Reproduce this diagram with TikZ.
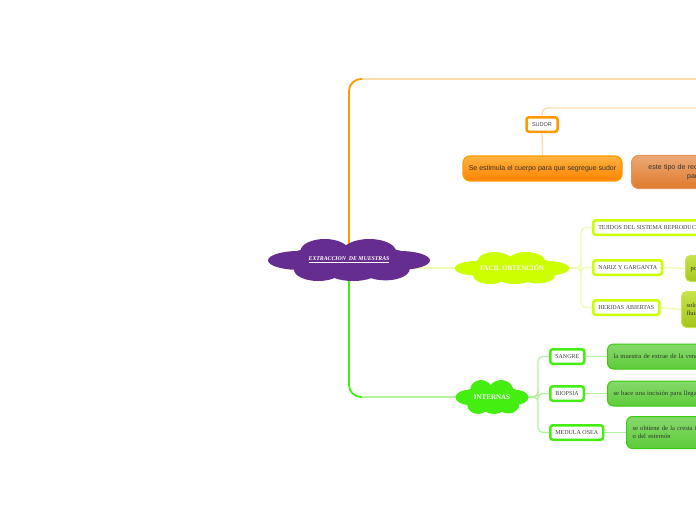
\documentclass[tikz,border=0pt]{standalone}
\usepackage{fontspec}
\setmainfont{Liberation Serif}
\newfontfamily\notesans{Liberation Sans}
\usepackage{tikz}
\usetikzlibrary{positioning, backgrounds}

\definecolor{rootpurple}{HTML}{662D91}
\definecolor{sudororange}{HTML}{FF9900}
\definecolor{paleorange}{HTML}{FCDDAA}
\definecolor{rustorange}{HTML}{E07A2C}
\definecolor{limetone}{HTML}{CCFF00}
\definecolor{palelime}{HTML}{EEFBB0}
\definecolor{olivelime}{HTML}{B8DC1E}
\definecolor{greentone}{HTML}{44EE11}
\definecolor{palegreen}{HTML}{B2F2A0}
\definecolor{leafgreen}{HTML}{5ECC3A}

% cloud blob round a node: {node}{half width}{half height}{colour}
\newcommand{\blobcloud}[4]{%
  \begin{scope}[shift={(#1.center)}, fill=#4]
    \fill (0,0) ellipse [x radius=0.8*#2pt, y radius=0.72*#3pt];
    \fill (-0.62*#2,0.02*#3) ellipse [x radius=0.38*#2pt, y radius=0.45*#3pt];
    \fill (0.62*#2,0.02*#3) ellipse [x radius=0.38*#2pt, y radius=0.45*#3pt];
    \fill (-0.3*#2,-0.42*#3) ellipse [x radius=0.3*#2pt, y radius=0.58*#3pt];
    \fill (0.25*#2,-0.4*#3) ellipse [x radius=0.33*#2pt, y radius=0.6*#3pt];
    \fill (-0.38*#2,0.45*#3) ellipse [x radius=0.3*#2pt, y radius=0.55*#3pt];
    \fill (0.05*#2,0.5*#3) ellipse [x radius=0.33*#2pt, y radius=0.5*#3pt];
    \fill (0.45*#2,0.42*#3) ellipse [x radius=0.3*#2pt, y radius=0.55*#3pt];
  \end{scope}}

\begin{document}
\begin{tikzpicture}[
  x=1pt, y=-1pt,
  font=\fontsize{6}{7}\selectfont,
  idea/.style={text=white, inner sep=0pt},
  topicbox/.style={draw, line width=2.5pt, rounded corners=2.5pt, fill=white, text=black!75, minimum height=14.5pt, inner xsep=5pt, anchor=west},
  orangenote/.style={draw=sudororange, line width=1.2pt, rounded corners=7pt, top color=sudororange!75!white, bottom color=sudororange!85!red, text=black!80, font=\notesans\fontsize{7}{8.5}\selectfont, align=center},
  limenote/.style={draw=olivelime!80!white, line width=1pt, rounded corners=5pt, top color=olivelime!80!white, bottom color=olivelime!90!black, text=black!80, anchor=west, align=left, inner xsep=5pt, text width=55pt, font=\fontsize{6.5}{8}\selectfont},
  greennote/.style={draw=greentone!85!black, line width=1pt, rounded corners=6pt, top color=leafgreen!75!white, bottom color=leafgreen, text=black!80, anchor=west, align=left, inner xsep=6pt, text width=140pt, font=\fontsize{6.6}{8}\selectfont},
  trunk/.style={line width=1.8pt},
  twig/.style={line width=1.3pt}
]
\path[use as bounding box] (0,0) rectangle (696,520);
\clip (0,0) rectangle (696,520);

% --- central idea ---
\node[idea, font=\fontsize{5.8}{7}\selectfont] (root) at (349,260)
  {\underline{\textbf{\textit{EXTRACCION\ \ DE MUESTRAS}}}};

% --- upper branch (orange) ---
\node[topicbox, draw=sudororange, anchor=center, minimum width=31pt, font=\notesans\fontsize{5.5}{6.5}\selectfont] (sudor) at (542,124.5) {SUDOR};
\node[orangenote, minimum width=159pt, minimum height=25pt] (estimula) at (542.5,168.5)
  {Se estimula el cuerpo para que segregue sudor};
\node[orangenote, anchor=west, draw=rustorange!80!white, top color=rustorange!65!white, bottom color=rustorange, minimum height=33pt, text width=131pt] (tipo) at (631,172)
  {este tipo de recolección ayuda al\\paciente};
\coordinate (topend) at (700,79);
\coordinate (sudorend) at (700,108);

% --- middle branch (lime) ---
\node[idea, font=\bfseries\fontsize{6.8}{8}\selectfont] (facil) at (512,268) {FACIL OBTENCIÓN};
\coordinate (facilfork) at (581,268);
\node[topicbox, draw=limetone] (tejidos) at (592,227.5) {TEJIDOS DEL SISTEMA REPRODUCTOR};
\node[topicbox, draw=limetone, minimum width=68.5pt] (nariz) at (592,267.5) {NARIZ Y GARGANTA};
\node[topicbox, draw=limetone, minimum width=65.5pt] (heridas) at (592,307.5) {HERIDAS ABIERTAS};
\node[limenote, minimum height=26pt] (hisopo) at (685,268.5) {por hisopado};
\node[limenote, minimum height=36pt] (fluidos) at (681,309.5) {solo se toman\\fluidos};

% --- lower branch (green) ---
\node[idea, font=\bfseries\fontsize{7}{8}\selectfont] (internas) at (492,397) {INTERNAS};
\coordinate (internasfork) at (538,397);
\node[topicbox, draw=greentone, minimum width=33.5pt] (sangre) at (549,356.5) {SANGRE};
\node[topicbox, draw=greentone, minimum width=33.5pt] (biopsia) at (549,393.5) {BIOPSIA};
\node[topicbox, draw=greentone, minimum width=52.5pt] (medula) at (549,432.5) {MEDULA OSEA};
\node[greennote, minimum height=25pt] (vena) at (607,356.5) {la muestra de extrae de la vena};
\node[greennote, minimum height=25pt] (incision) at (607,393.5) {se hace una incisión para llegar al tejido};
\node[greennote, minimum height=32pt, text width=120pt] (cresta) at (626,432.5) {se obtiene de la cresta ilíaca\\o del esternón};

\begin{scope}[on background layer]
% trunks out of the central idea
\draw[trunk, sudororange, rounded corners=12pt] (root.center) |- (topend);
\draw[trunk, paleorange] (362,79) -- (topend);
\draw[trunk, greentone, rounded corners=12pt] (root.center) |- (internas.center);
\draw[trunk, palegreen] (362,397) -- (internas.center);
\draw[twig, palelime] (root.center |- facil.center) -- (facil.center);

% orange twigs
\draw[twig, paleorange, rounded corners=6pt] (sudor.north) |- (sudorend);
\draw[twig, paleorange] (sudor.south) -- (estimula.north);

% lime twigs
\foreach \leaf in {tejidos, nariz, heridas}
  \draw[twig, palelime, rounded corners=5pt] (facil.east) -- (facilfork) |- (\leaf.west);
\draw[twig, palelime] (nariz.east) -- (hisopo.west);
\draw[twig, palelime] (heridas.east) -- (fluidos.west);

% green twigs
\foreach \leaf in {sangre, biopsia, medula}
  \draw[twig, palegreen, rounded corners=5pt] (internas.east) -- (internasfork) |- (\leaf.west);
\draw[twig, palegreen] (sangre.east) -- (vena.west);
\draw[twig, palegreen] (biopsia.east) -- (incision.west);
\draw[twig, palegreen] (medula.east) -- (cresta.west);

% clouds behind the idea texts
\blobcloud{root}{81}{21}{rootpurple}
\blobcloud{facil}{57.5}{16}{limetone}
\blobcloud{internas}{36.5}{17}{greentone}
\end{scope}
\end{tikzpicture}
\end{document}
